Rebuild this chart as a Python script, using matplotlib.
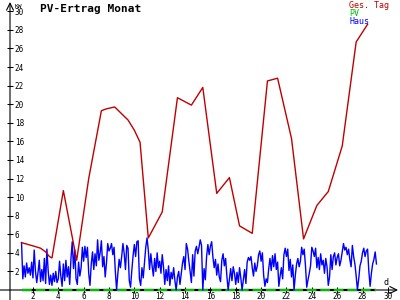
import numpy as np
import matplotlib
matplotlib.use("Agg")
import matplotlib.pyplot as plt

# ---- data ----
title = "PV-Ertrag Monat"
unit_label = "KW"
x_label = "d"
legend_labels = ["Ges. Tag", "PV", "Haus"]

x_ticks = list(range(2, 31, 2))
y_ticks = list(range(2, 31, 2))

ges_days = [1.1, 2.0, 2.6, 3.0, 3.3, 3.5, 4.4, 5.45, 6.4, 7.4, 7.8, 8.45, 9.5, 10.0, 10.45,
            11.1, 12.2, 13.4, 14.5, 15.4, 16.5, 17.5, 18.3, 19.3, 20.5, 21.3, 22.4, 23.35,
            24.4, 25.3, 26.4, 27.5, 28.4]
ges_vals = [5.1, 4.75, 4.5, 4.1, 3.6, 3.45, 10.7, 3.2, 12.0, 19.3, 19.5, 19.7, 18.3, 17.2, 15.9,
            5.6, 8.4, 20.7, 19.9, 21.8, 10.4, 12.1, 6.9, 6.1, 22.5, 22.8, 16.3, 5.5,
            9.1, 10.6, 15.5, 26.7, 28.6]

haus_start = 1.1
haus_step = 0.1
haus_vals = [
    5.1, 1.2, 2.6, 1.4, 2.9, 1.8, 2.4, 1.6, 3.0, 1.3,
    4.3, 2.0, 0.8, 1.9, 3.2, 0.9, 2.2, 1.0, 3.4, 0.7,
    4.4, 2.1, 0.6, 1.6, 0.5, 1.8, 0.9, 2.0, 0.8, 1.2,
    3.1, 1.5, 0.4, 2.8, 1.0, 3.2, 1.4, 2.5, 0.6, 3.4,
    5.2, 2.3, 4.3, 1.2, 0.6, 3.0, 1.5, 2.4, 4.6, 3.1,
    4.7, 3.5, 4.6, 1.8, 0.5, 2.8, 4.1, 2.2, 3.9, 2.6,
    5.4, 3.2, 4.0, 5.3, 2.5, 3.6, 1.4, 2.9, 5.0, 4.2,
    4.5, 5.0, 3.8, 4.6, 2.0, 0.0, 1.8, 3.3, 2.4, 3.6,
    5.0, 3.9, 2.2, 4.8, 4.5, 1.0, 0.3, 2.1, 3.7, 4.9,
    3.6, 5.2, 5.3, 1.2, 0.5, 2.4, 1.3, 3.0, 4.6, 5.6,
    4.3, 2.2, 3.9, 2.6, 1.5, 3.4, 2.0, 4.0, 2.4, 3.1,
    1.8, 3.8, 2.5, 0.6, 2.2, 1.0, 2.6, 0.5, 1.9, 1.2,
    2.4, 1.0, 0.0, 1.4, 2.0, 0.6, 1.8, 2.9, 3.6, 2.2,
    5.0, 4.4, 3.1, 2.0, 0.8, 3.8, 1.5, 4.2, 4.7, 3.9,
    4.6, 5.4, 4.8, 0.0, 2.3, 1.1, 3.6, 4.9, 3.8, 4.7,
    5.2, 3.5, 2.4, 3.3, 1.6, 2.8, 1.4, 0.9, 3.2, 3.9,
    2.6, 3.4, 1.5, 0.0, 1.2, 2.3, 1.0, 2.5, 1.8, 0.6,
    1.9, 0.8, 2.4, 1.3, 0.0, 1.1, 2.2, 0.7, 3.0, 3.5,
    3.2, 3.6, 2.4, 1.5, 2.9, 2.0, 2.6, 3.8, 4.2, 3.1,
    4.0, 1.6, 0.4, 1.2, 0.8, 2.3, 3.4, 2.1, 3.7, 2.5,
    3.9, 2.2, 3.0, 0.4, 1.5, 2.4, 1.2, 3.8, 4.5, 3.6,
    4.4, 2.1, 3.3, 1.4, 2.7, 0.0, 1.6, 2.8, 3.4, 2.5,
    3.1, 4.6, 3.8, 4.4, 2.6, 0.3, 1.1, 1.8, 2.6, 4.6,
    4.2, 3.6, 4.5, 2.4, 3.5, 2.2, 3.9, 2.7, 3.2, 1.8,
    3.4, 2.5, 0.5, 1.4, 3.8, 2.2, 3.6, 4.0, 2.7, 3.5,
    3.9, 2.6, 3.2, 4.1, 5.0, 4.3, 4.6, 3.8, 4.4, 3.3,
    2.5, 4.8, 3.6, 2.8, 1.5, 0.0, 1.2, 2.6, 3.1, 4.0,
    4.5, 3.6, 4.2, 4.4, 2.0, 0.4, 1.8, 2.8, 3.3, 4.1,
    2.8,
]
haus_days = haus_start + haus_step * np.arange(len(haus_vals))
pv_days = [1.1, 29.1]
pv_vals = [0.0, 0.0]

# ---- styles ----
c_red = "#c00000"
c_green = "#00c000"
c_blue = "#0000ff"
mono = "DejaVu Sans Mono"

fig = plt.figure(figsize=(4, 3), dpi=100)
W, H = 400.0, 300.0
ax = fig.add_axes([10 / W, 10 / H, 388 / W, 288 / H])
ax.set_xlim(0.19, 30.8)
ax.set_ylim(0, 31)
for s in ax.spines.values():
    s.set_visible(False)

# axes with arrows
ax.annotate("", xy=(1.0, 0), xytext=(-10 / 388, 0), xycoords="axes fraction",
            arrowprops=dict(arrowstyle="->,head_length=0.5,head_width=0.25", lw=0.8, color="black",
                            shrinkA=0, shrinkB=0))
ax.annotate("", xy=(0, 1.0), xytext=(0, -10 / 288), xycoords="axes fraction",
            arrowprops=dict(arrowstyle="->,head_length=0.5,head_width=0.25", lw=0.8, color="black",
                            shrinkA=0, shrinkB=0))

ax.set_xticks(x_ticks)
ax.set_xticklabels([str(t) for t in x_ticks], family=mono, fontsize=5.5)
ax.set_yticks(y_ticks)
ax.set_yticklabels([str(t) for t in y_ticks], family=mono, fontsize=5.5)
ax.tick_params(axis="both", direction="inout", length=4.3, width=0.75, color="black")
ax.tick_params(axis="y", pad=-5.6)
ax.tick_params(axis="x", pad=-0.8)
for lab in ax.get_yticklabels():
    lab.set_horizontalalignment("left")

# series
ax.plot(pv_days, pv_vals, color="black", lw=1.6, solid_capstyle="butt", clip_on=False, zorder=2)
ax.plot(pv_days, pv_vals, color=c_green, lw=1.6, dashes=(4.4, 1.7), dash_capstyle="butt",
        clip_on=False, zorder=3)
ax.plot(haus_days, haus_vals, color=c_blue, lw=1.0, clip_on=False, zorder=4)
ax.plot(ges_days, ges_vals, color=c_red, lw=1.0, clip_on=False, zorder=5)

# texts
fig.text(40 / W, 1 - 12 / H, title, family=mono, fontweight="bold", fontsize=8, color="black",
         ha="left", va="baseline")
fig.text(14.5 / W, 1 - 8 / H, unit_label, family=mono, fontsize=4.5, color="black",
         ha="left", va="baseline")
fig.text(384 / W, 1 - 285 / H, x_label, family=mono, fontsize=6, color="black",
         ha="left", va="baseline")
for i, (lab, col) in enumerate(zip(legend_labels, [c_red, c_green, c_blue])):
    fig.text(349 / W, 1 - (8 + 8 * i) / H, lab, family=mono, fontsize=6, color=col,
             ha="left", va="baseline")

fig.savefig("out.png", dpi=100)
